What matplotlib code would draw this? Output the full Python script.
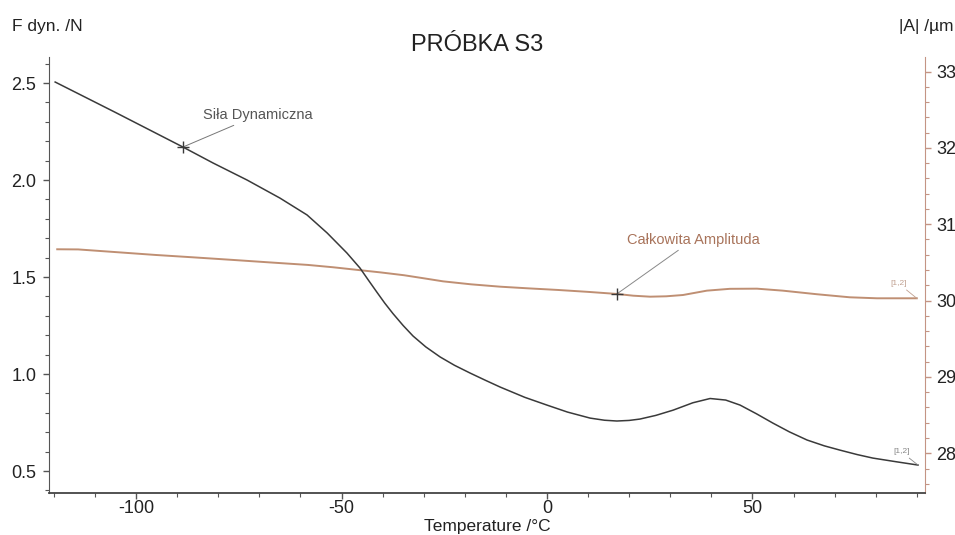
import matplotlib
matplotlib.use("Agg")
import matplotlib.pyplot as plt
from matplotlib.ticker import MultipleLocator

plt.rcParams['font.family'] = ['Liberation Sans', 'DejaVu Sans']
plt.rcParams['axes.unicode_minus'] = False

# Siła Dynamiczna (left axis)
temp_f = [-119.7, -105.0, -88.6, -81.3, -73.0, -65.0, -58.4, -53.5, -48.7, -45.5,
          -43.5, -41.4, -39.5, -37.5, -35.0, -32.6, -29.5, -26.0, -22.5, -18.7,
          -15.0, -11.4, -5.4, 0.0, 5.0, 10.5, 14.0, 17.0, 20.0, 22.6,
          26.5, 30.7, 35.5, 39.7, 43.5, 47.0, 51.0, 55.0, 59.0, 63.3,
          67.5, 71.3, 75.5, 79.3, 85.0, 90.3]
force = [2.505, 2.348, 2.170, 2.088, 2.000, 1.907, 1.820, 1.727, 1.624, 1.546,
         1.485, 1.422, 1.366, 1.312, 1.250, 1.196, 1.140, 1.088, 1.045, 1.005,
         0.968, 0.933, 0.880, 0.840, 0.804, 0.773, 0.762, 0.758, 0.761, 0.768,
         0.787, 0.814, 0.852, 0.874, 0.866, 0.840, 0.795, 0.747, 0.702, 0.660,
         0.630, 0.608, 0.585, 0.567, 0.548, 0.531]

# Całkowita Amplituda (right axis)
temp_a = [-119.2, -114.1, -105.0, -95.4, -86.0, -76.6, -67.5, -58.2, -52.0, -46.0,
          -40.5, -34.8, -30.0, -25.3, -18.5, -11.4, -4.5, 2.7, 10.0, 17.0,
          21.0, 25.1, 29.0, 33.1, 38.9, 44.5, 51.1, 57.4, 65.7, 73.7, 80.3, 90.0]
amplitude = [30.672, 30.670, 30.635, 30.598, 30.566, 30.533, 30.500, 30.467, 30.436, 30.401,
             30.369, 30.332, 30.292, 30.252, 30.213, 30.182, 30.160, 30.139, 30.114, 30.087,
             30.064, 30.051, 30.056, 30.073, 30.130, 30.154, 30.156, 30.130, 30.083, 30.043, 30.030, 30.030]

marker_f = (-88.6, 2.170)
marker_a = (17.0, 30.087)

black = '#3a3a3a'
brown = '#bf8f73'
brown_dark = '#a8735a'
spine_brown = '#c49484'

fig = plt.figure(figsize=(9.55, 5.35), dpi=100)
ax = fig.add_axes([49 / 955, 42 / 535, 876 / 955, 436 / 535])
ax2 = ax.twinx()

ax.plot(temp_f, force, color=black, lw=1.1, zorder=3)
ax2.plot(temp_a, amplitude, color=brown, lw=1.4, zorder=2)
ax.set_zorder(ax2.get_zorder() + 1)
ax.patch.set_visible(False)

ax.set_xlim(-121.2, 92.0)
ax.set_ylim(0.387, 2.634)
ax2.set_ylim(27.48, 33.19)

ax.xaxis.set_major_locator(MultipleLocator(50))
ax.xaxis.set_minor_locator(MultipleLocator(10))
ax.yaxis.set_major_locator(MultipleLocator(0.5))
ax.yaxis.set_minor_locator(MultipleLocator(0.1))
ax.yaxis.set_major_formatter(plt.FuncFormatter(lambda v, p: f"{v:.1f}"))
ax2.yaxis.set_major_locator(MultipleLocator(1))
ax2.yaxis.set_minor_locator(MultipleLocator(0.2))

for a in (ax, ax2):
    a.spines['top'].set_visible(False)
ax.spines['left'].set_color('#555555')
ax.spines['bottom'].set_color('#444444')
ax.spines['bottom'].set_linewidth(1.3)
ax.spines['right'].set_visible(False)
ax2.spines['left'].set_visible(False)
ax2.spines['bottom'].set_visible(False)
ax2.spines['right'].set_color(spine_brown)

ax.tick_params(axis='both', which='major', direction='out', length=4, width=1,
               color='#555555', labelsize=13, labelcolor='#222222', pad=5)
ax.tick_params(axis='x', which='major', pad=1)
ax.tick_params(axis='both', which='minor', direction='out', length=3, width=0.8,
               color='#555555')
ax2.tick_params(axis='y', which='major', direction='out', length=4, width=1,
                color=spine_brown, labelsize=13, labelcolor='#222222', pad=4)
ax2.tick_params(axis='y', which='minor', direction='out', length=3, width=0.8,
                color=spine_brown)

# markers and annotations
ax.plot(*marker_f, marker='+', color=black, ms=8, mew=1.0, zorder=4)
ax.annotate('Siła Dynamiczna', xy=marker_f, xytext=(54, 18), textcoords='offset points',
            ha='center', va='bottom', fontsize=10.5, color='#555555',
            arrowprops=dict(arrowstyle='-', color='#777777', lw=0.7, shrinkA=1, shrinkB=0))
ax2.plot(*marker_a, marker='+', color=black, ms=8, mew=1.0, zorder=4)
ax2.annotate('Całkowita Amplituda', xy=marker_a, xytext=(55, 34), textcoords='offset points',
             ha='center', va='bottom', fontsize=10.5, color=brown_dark,
             arrowprops=dict(arrowstyle='-', color='#888888', lw=0.7, shrinkA=1, shrinkB=0))

ax.annotate('[1,2]', xy=(temp_f[-1], force[-1]), xytext=(-12, 7), textcoords='offset points',
            ha='center', va='bottom', fontsize=6, color='#888888',
            arrowprops=dict(arrowstyle='-', color='#888888', lw=0.6, shrinkA=0, shrinkB=0))
ax2.annotate('[1,2]', xy=(temp_a[-1], amplitude[-1]), xytext=(-13, 8), textcoords='offset points',
             ha='center', va='bottom', fontsize=6, color='#c0a090',
             arrowprops=dict(arrowstyle='-', color='#c0a090', lw=0.6, shrinkA=0, shrinkB=0))

fig.text(477 / 955, 1 - 45 / 535, 'PRÓBKA S3', ha='center', va='center',
         fontsize=17, color='#222222')
fig.text(12 / 955, 1 - 26 / 535, 'F dyn. /N', ha='left', va='center',
         fontsize=12.5, color='#222222')
fig.text(953 / 955, 1 - 26 / 535, '|A| /µm', ha='right', va='center',
         fontsize=12.5, color='#222222')
fig.text(487 / 955, 1 - 527 / 535, 'Temperature /°C', ha='center', va='center',
         fontsize=12.5, color='#222222')

fig.savefig('out.png', dpi=100, facecolor='white')
